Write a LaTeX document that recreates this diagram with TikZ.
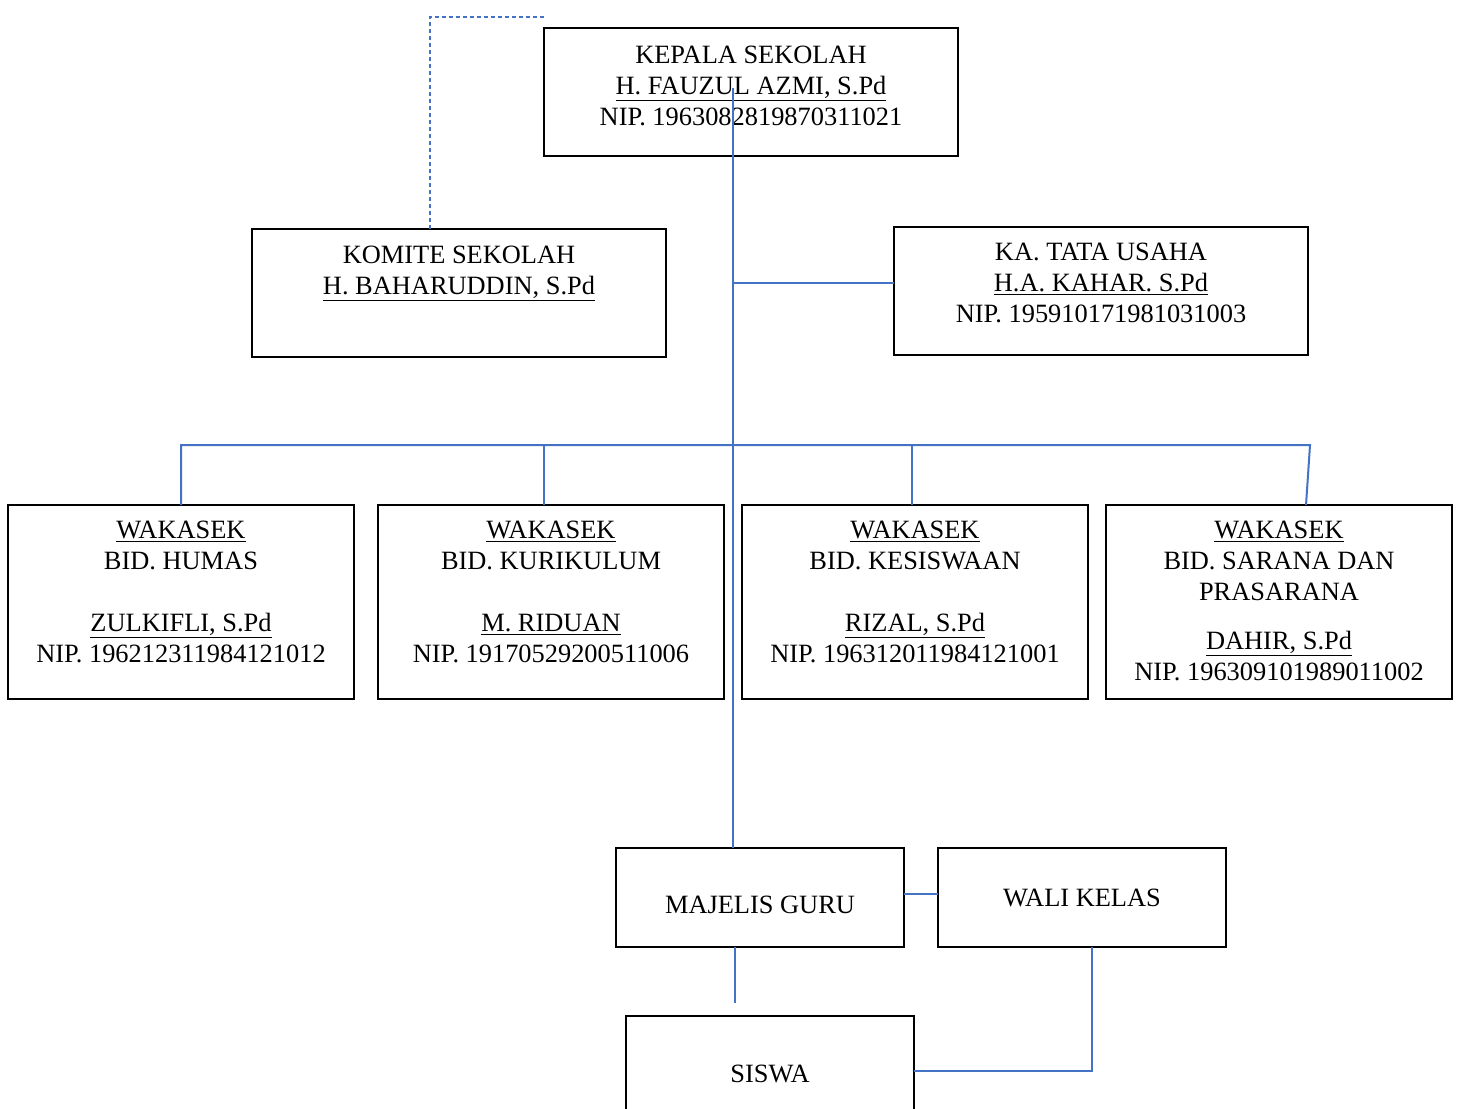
\documentclass[tikz,border=0pt]{standalone}
\usepackage{fontspec}
\setmainfont{Liberation Serif}
\usepackage{xcolor}
\usetikzlibrary{positioning}
\definecolor{garisbiru}{RGB}{68,114,196}

\begin{document}
\begin{tikzpicture}[
        x=0.5pt, y=-0.5pt,
        kotak/.style={rectangle, draw=black, line width=0.75pt, inner sep=0pt, outer sep=0pt, minimum width=207pt, minimum height=64pt},
        wakil/.style={kotak, minimum width=173pt, minimum height=97pt},
        kecil/.style={kotak, minimum width=144pt, minimum height=49.5pt, font=\fontsize{13.2}{15.5}\selectfont},
        isi/.style={anchor=base, align=center, inner sep=0pt, font=\fontsize{13.2}{15.5}\selectfont},
        garis/.style={draw=garisbiru, line width=1pt},
        putus/.style={garis, dash pattern=on 2pt off 1.5pt}
    ]
            \useasboundingbox (0,0) rectangle (1459,1108);

            % Pimpinan
            \node[kotak] (kepala) at (751,92) {};
            \node[isi] (kepala-t) at ([yshift=-48.5pt]kepala.north) {KEPALA SEKOLAH\\ \underline{H. FAUZUL AZMI, S.Pd}\\ NIP. 1963082819870311021};
            \node[kotak] (komite) at (459,293) {};
            \node[isi] (komite-t) at ([yshift=-32.5pt]komite.north) {KOMITE SEKOLAH\\ \underline{H. BAHARUDDIN, S.Pd}};
            \node[kotak] (tu) at (1101,291) {};
            \node[isi] (tu-t) at ([yshift=-47.5pt]tu.north) {KA. TATA USAHA\\ \underline{H.A. KAHAR. S.Pd}\\ NIP. 195910171981031003};

            % Wakasek
            \node[wakil] (humas) at (181,602) {};
            \node[wakil, right=12pt of humas] (kurikulum) {};
            \node[wakil, right=9pt of kurikulum] (kesiswaan) {};
            \node[wakil, right=9pt of kesiswaan] (sarana) {};
            \node[isi] (humas-t) at ([yshift=-78.5pt]humas.north) {\underline{WAKASEK}\\ BID. HUMAS\\[15.5pt] \underline{ZULKIFLI, S.Pd}\\ NIP. 196212311984121012};
            \node[isi] (kurikulum-t) at ([yshift=-78.5pt]kurikulum.north) {\underline{WAKASEK}\\ BID. KURIKULUM\\[15.5pt] \underline{M. RIDUAN}\\ NIP. 19170529200511006};
            \node[isi] (kesiswaan-t) at ([yshift=-78.5pt]kesiswaan.north) {\underline{WAKASEK}\\ BID. KESISWAAN\\[15.5pt] \underline{RIZAL, S.Pd}\\ NIP. 196312011984121001};
            \node[isi] (sarana-t) at ([yshift=-87.5pt]sarana.north) {\underline{WAKASEK}\\ BID. SARANA DAN\\ PRASARANA\\[9pt] \underline{DAHIR, S.Pd}\\ NIP. 196309101989011002};

            % Guru dan siswa
            \node[kecil] (majelis) at (760,897.5) {\raisebox{-3.5pt}[\height][\depth]{MAJELIS GURU}};
            \node[kecil, right=17pt of majelis] (wali) {WALI KELAS};
            \node[kecil, minimum height=55pt] (siswa) at (770,1071) {\raisebox{-1.5pt}[\height][\depth]{SISWA}};

            % Garis
            \coordinate (pusat) at (733,88);
            \draw[garis] (pusat) -- (pusat |- majelis.north);
            \draw[garis] (pusat |- 0,283) -- (tu.west |- 0,283);
            \draw[garis] (humas.north) |- (1310,445) -- ([xshift=13.5pt]sarana.north);
            \draw[garis] ([xshift=-3.5pt]kurikulum.north) -- ++(0,-60);
            \draw[garis] ([xshift=-1.5pt]kesiswaan.north) -- ++(0,-60);
            \draw[putus] ([xshift=-14.5pt]komite.north) |- ([yshift=5.5pt]kepala.north west);
            \draw[garis] ([yshift=2pt]majelis.east) -- ([yshift=2pt]wali.west);
            \draw[garis] ([xshift=-12.5pt]majelis.south) -- ++(0,56);
            \draw[garis] ([xshift=5pt]wali.south) |- (siswa.east);
    \end{tikzpicture}
\end{document}
